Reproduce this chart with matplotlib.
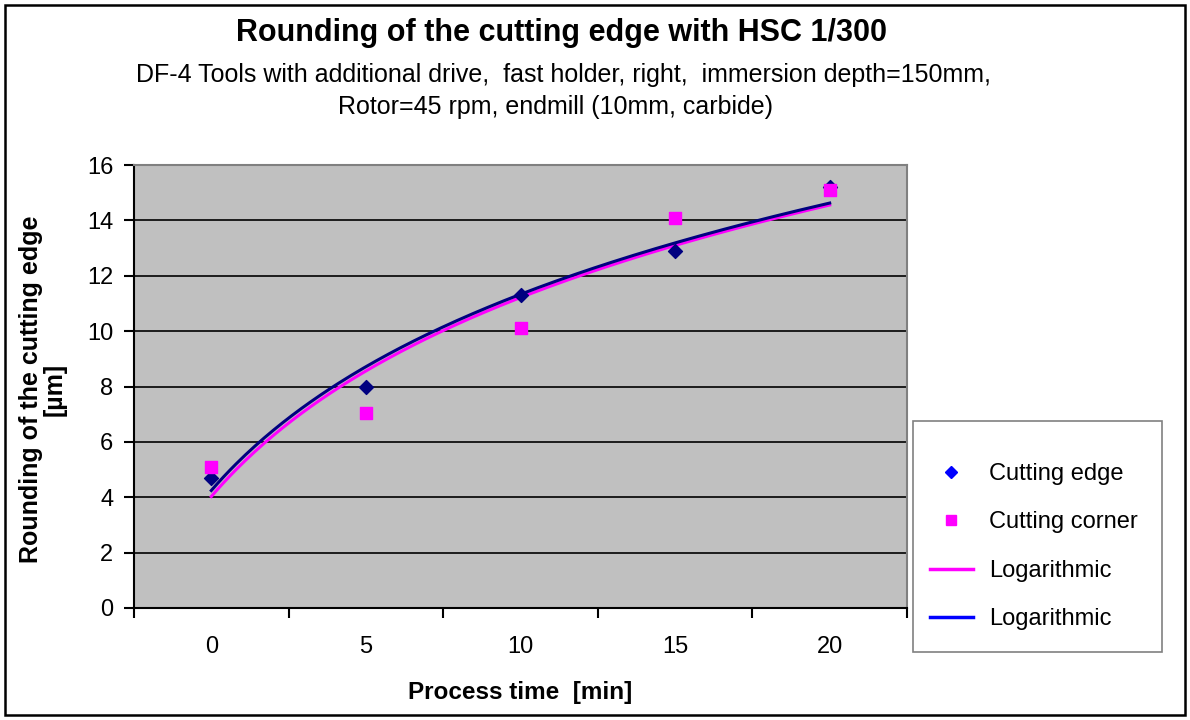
import numpy as np
import matplotlib.pyplot as plt
from matplotlib.lines import Line2D
from matplotlib.patches import Rectangle

plt.rcParams['font.family'] = ['Liberation Sans', 'DejaVu Sans']

# data
process_time = [0, 5, 10, 15, 20]
cutting_edge = [4.7, 8.0, 11.3, 12.9, 15.2]
cutting_corner = [5.1, 7.05, 10.1, 14.1, 15.1]

# Excel style log trend: y = a*ln(k) + b, k = 1..n (category index)
k = np.arange(1, len(process_time) + 1)
kk = np.linspace(1, len(process_time), 200)
xx = np.interp(kk, k, process_time)
a_e, b_e = np.polyfit(np.log(k), cutting_edge, 1)
a_c, b_c = np.polyfit(np.log(k), cutting_corner, 1)

W, H = 1190, 720
fig = plt.figure(figsize=(W/100, H/100), dpi=100)
ax = fig.add_axes([134/W, 1 - 608/H, (907 - 134)/W, (608 - 165)/H])
ax.set_facecolor('#C0C0C0')

ax.plot(xx, a_c*np.log(kk) + b_c, color='#FF00FF', lw=2.2, zorder=3)
ax.plot(xx, a_e*np.log(kk) + b_e, color='#000080', lw=2.2, zorder=3)
ax.scatter(process_time, cutting_edge, marker='D', s=50, color='#000080', zorder=4)
ax.scatter(process_time, cutting_corner, marker='s', s=64, color='#FF00FF', zorder=5)

ax.set_xlim(-2.5, 22.5)
ax.set_ylim(0, 16)
ax.set_yticks(np.arange(0, 17, 2))
ax.yaxis.grid(True, color='black', lw=1.2)
ax.set_axisbelow(True)
ax.set_xticks(np.arange(-2.5, 23, 5))
ax.set_xticklabels([])
ax.set_xticks(process_time, minor=True)
ax.set_xticklabels([str(v) for v in process_time], minor=True)
ax.tick_params(axis='x', which='minor', length=0, pad=20, labelsize=17)
ax.tick_params(axis='x', which='major', length=7, width=1.5, direction='out')
ax.tick_params(axis='y', length=7, width=1.5, direction='out', labelsize=17, pad=8)

for s in ['top', 'right']:
    ax.spines[s].set_color('#808080')
    ax.spines[s].set_linewidth(1.5)
for s in ['left', 'bottom']:
    ax.spines[s].set_color('black')
    ax.spines[s].set_linewidth(1.5)

fig.text(520/W, 1 - 692/H, 'Process time  [min]', ha='center', va='center',
         fontsize=17.5, fontweight='bold')
fig.text(43/W, 1 - 389/H, 'Rounding of the cutting edge\n[µm]', ha='center', va='center',
         rotation=90, fontsize=18, fontweight='bold', multialignment='center',
         linespacing=1.0)

fig.text(562/W, 1 - 33/H, 'Rounding of the cutting edge with HSC 1/300',
         ha='center', va='center', fontsize=22, fontweight='bold')
fig.text(563/W, 1 - 75/H,
         'DF-4 Tools with additional drive,  fast holder, right,  immersion depth=150mm,',
         ha='center', va='center', fontsize=18)
fig.text(555/W, 1 - 107/H, 'Rotor=45 rpm, endmill (10mm, carbide)',
         ha='center', va='center', fontsize=18)

# legend frame drawn separately so the rows can sit like in Excel
fig.patches.append(Rectangle((913/W, 1 - 652/H), 249/W, 231/H, transform=fig.transFigure,
                             facecolor='white', edgecolor='#808080', lw=1.2, zorder=1))
handles = [
    Line2D([], [], ls='none', marker='D', color='#0000FF', markersize=6),
    Line2D([], [], ls='none', marker='s', color='#FF00FF', markersize=7.5),
    Line2D([], [], color='#FF00FF', lw=2.5),
    Line2D([], [], color='#0000FF', lw=2.5),
]
labels = ['Cutting edge', 'Cutting corner', 'Logarithmic', 'Logarithmic']
fig.legend(handles, labels, loc='upper left', bbox_to_anchor=(930/W, 1 - 463/H),
           borderaxespad=0, borderpad=0, fontsize=17, frameon=False,
           labelspacing=1.12, handlelength=1.8, handletextpad=0.7)

fig.patches.append(Rectangle((5/W, 5/H), 1180/W, 710/H, transform=fig.transFigure,
                             fill=False, edgecolor='black', lw=1.8))

fig.savefig('out.png', dpi=100, facecolor='white')
